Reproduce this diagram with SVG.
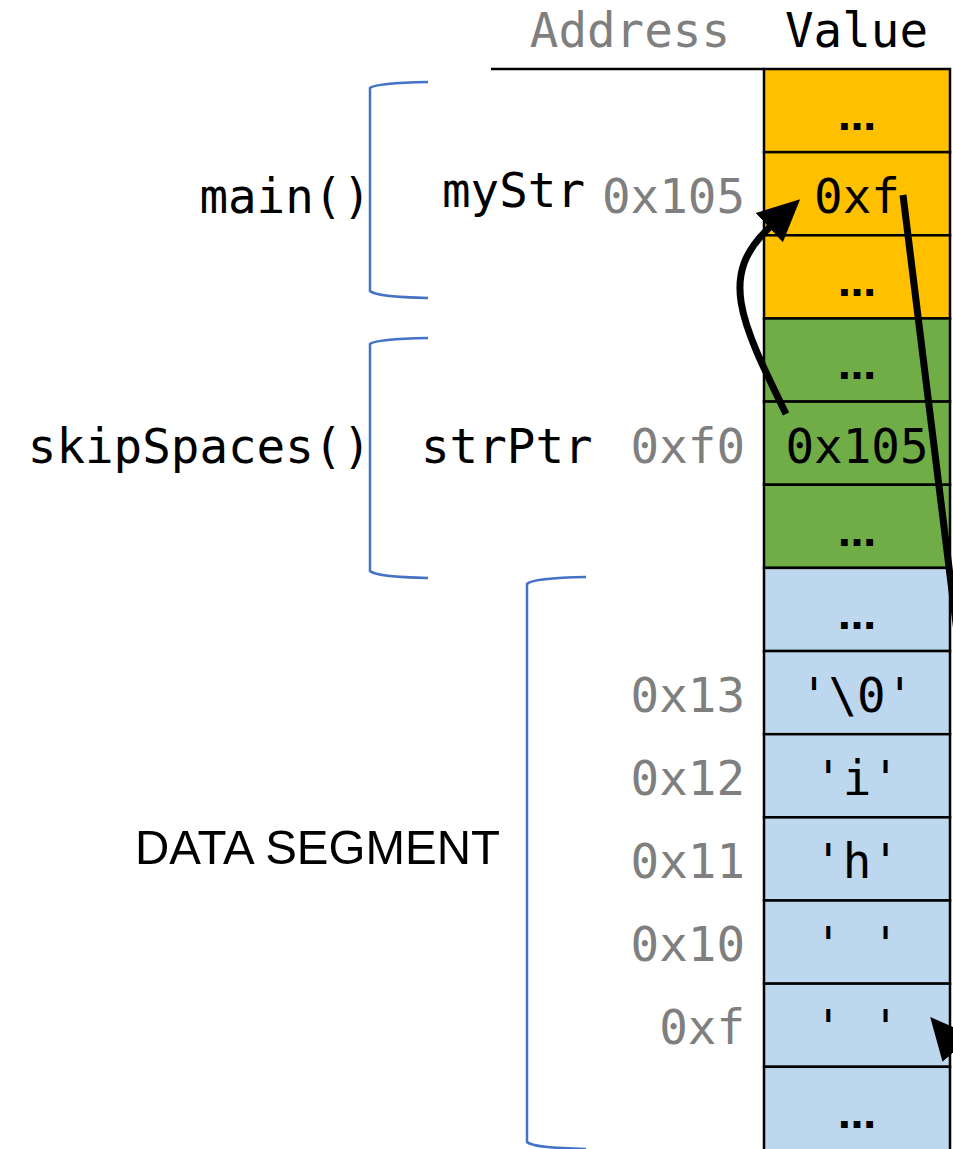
<svg xmlns="http://www.w3.org/2000/svg" width="953" height="1149" viewBox="0 0 953 1149">
<style>
.mono{font-family:"DejaVu Sans Mono","Liberation Mono",monospace;font-size:47.5px}
.addr{fill:#7f7f7f;text-anchor:end}
.val{fill:#000;text-anchor:middle}
.lbl{fill:#000}
.dots{font-family:"DejaVu Sans","Liberation Sans",sans-serif;font-size:38px;font-weight:bold}
.cell{stroke:#000;stroke-width:2.5}
.y{fill:#ffc000}
.g{fill:#70ad47}
.b{fill:#bdd7ee}
.brace{fill:none;stroke:#4472c4;stroke-width:2.5}
.conn{fill:none;stroke:#000;stroke-width:7}
</style>
<defs>
<marker id="ah" markerUnits="userSpaceOnUse" markerWidth="44" markerHeight="42" refX="1" refY="20" orient="auto" viewBox="0 0 44 40">
<path d="M0,0 L42,20 L0,40 z" fill="#000"/>
</marker>
</defs>
<rect width="953" height="1149" fill="#fff"/>
<g id="header">
<text class="mono addr" x="730" y="47">Address</text>
<text class="mono" x="785" y="47" fill="#000">Value</text>
<line x1="491" y1="69" x2="764" y2="69" stroke="#000" stroke-width="2.5"/>
</g>
<g id="stack-main">
<rect class="cell y" x="764" y="69" width="186" height="83.15"/>
<rect class="cell y" x="764" y="152.15" width="186" height="83.15"/>
<rect class="cell y" x="764" y="235.3" width="186" height="83.15"/>
<text class="dots val" x="857" y="130">…</text>
<text class="mono val" x="857" y="213">0xf</text>
<text class="dots val" x="857" y="296">…</text>
</g>
<g id="stack-skip">
<rect class="cell g" x="764" y="318.45" width="186" height="83.15"/>
<rect class="cell g" x="764" y="401.6" width="186" height="83.15"/>
<rect class="cell g" x="764" y="484.75" width="186" height="83.15"/>
<text class="dots val" x="857" y="379">…</text>
<text class="mono val" x="857" y="463">0x105</text>
<text class="dots val" x="857" y="546">…</text>
</g>
<g id="data">
<rect class="cell b" x="764" y="567.9" width="186" height="83.15"/>
<rect class="cell b" x="764" y="651.05" width="186" height="83.15"/>
<rect class="cell b" x="764" y="734.2" width="186" height="83.15"/>
<rect class="cell b" x="764" y="817.35" width="186" height="83.15"/>
<rect class="cell b" x="764" y="900.5" width="186" height="83.15"/>
<rect class="cell b" x="764" y="983.65" width="186" height="83.15"/>
<rect class="cell b" x="764" y="1066.8" width="186" height="90"/>
<text class="dots val" x="857" y="629">…</text>
<text class="mono val" x="857" y="712">'\0'</text>
<text class="mono val" x="857" y="795">'i'</text>
<text class="mono val" x="857" y="878">'h'</text>
<text class="mono val" x="857" y="961" xml:space="preserve">' '</text>
<text class="mono val" x="857" y="1044" xml:space="preserve">' '</text>
<text class="dots val" x="857" y="1128">…</text>
</g>
<g id="addresses">
<text class="mono addr" x="745" y="213">0x105</text>
<text class="mono addr" x="745" y="463">0xf0</text>
<text class="mono addr" x="745" y="712">0x13</text>
<text class="mono addr" x="745" y="795">0x12</text>
<text class="mono addr" x="745" y="878">0x11</text>
<text class="mono addr" x="745" y="961">0x10</text>
<text class="mono addr" x="745" y="1044">0xf</text>
</g>
<g id="vars">
<text class="mono lbl" x="442" y="207">myStr</text>
<text class="mono lbl" x="421" y="463">strPtr</text>
</g>
<g id="frame-main">
<path class="brace" d="M428,82 Q376,83 370,88 L370,291 Q376,297 428,298"/>
<text class="mono lbl" x="371" y="213" text-anchor="end">main()</text>
</g>
<g id="frame-skip">
<path class="brace" d="M428,338 Q376,339 370,344 L370,571 Q376,577 428,578"/>
<text class="mono lbl" x="371" y="463" text-anchor="end">skipSpaces()</text>
</g>
<g id="frame-data">
<path class="brace" d="M586,577 Q533,578 527,584 L527,1142 Q533,1148 586,1149"/>
<text x="135" y="864" font-family="'Liberation Sans',Arial,sans-serif" font-size="49" textLength="365" lengthAdjust="spacingAndGlyphs" fill="#000">DATA SEGMENT</text>
</g>
<g id="connectors">
<path class="conn" d="M786,414 C740,320 718,275 770,227" marker-end="url(#ah)"/>
<path class="conn" d="M903,195 L958,640 C985,860 1002,1100 957,1048" marker-end="url(#ah)"/>
</g>
</svg>
